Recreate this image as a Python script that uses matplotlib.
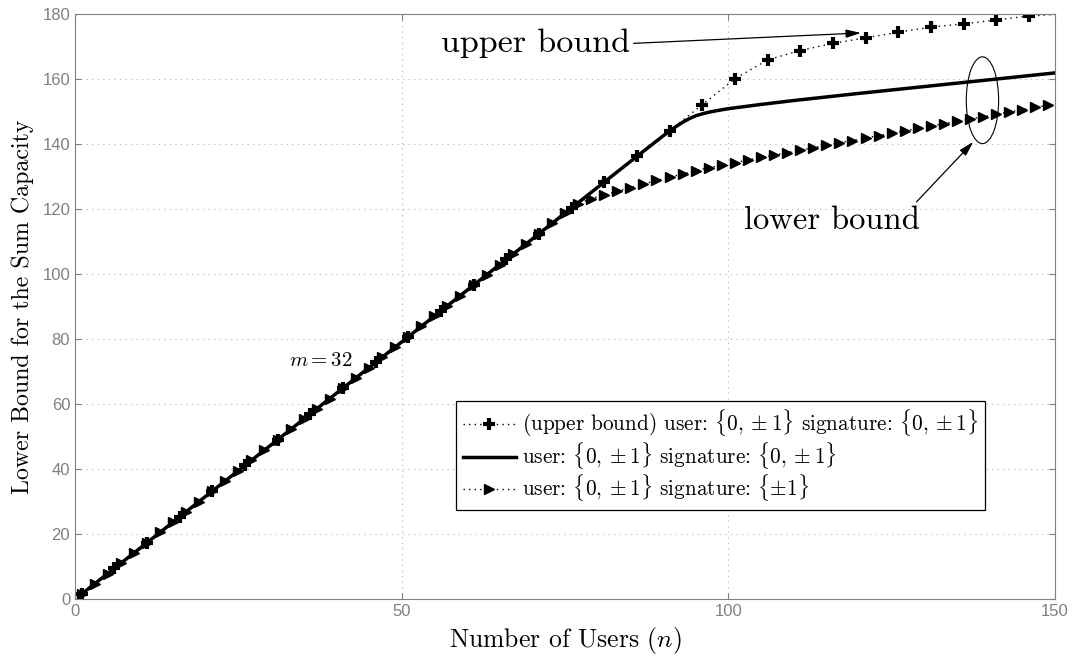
# lower/upper bound of sum capacity vs number of users (m = 32)
import matplotlib
matplotlib.use("Agg")
import matplotlib.pyplot as plt
from matplotlib.patches import Ellipse

# ---- data ----
# upper bound, user {0,+-1}, signature {0,+-1} (marker every 5 users)
n_upper = [1, 6, 11, 16, 21, 26, 31, 36, 41, 46, 51, 56, 61, 66, 71, 76, 81, 86, 91, 96,
           101, 106, 111, 116, 121, 126, 131, 136, 141, 146, 150]
cap_upper = [1.6, 9.5, 17.4, 25.4, 33.3, 41.2, 49.1, 57.1, 65.0, 72.9, 80.8, 88.8, 96.7,
             104.6, 112.5, 120.5, 128.4, 136.3, 144.2, 152.2,
             160.2, 166.0, 168.9, 171.1, 172.8, 174.5, 176.1, 177.1, 178.3, 179.5, 180.0]

# lower bound, user {0,+-1}, signature {0,+-1} (solid)
n_solid = [1, 10, 20, 30, 40, 50, 60, 70, 80, 86, 90, 92, 93, 94, 95, 96, 97, 98, 100,
           105, 110, 120, 130, 140, 150]
cap_solid = [1.6, 15.8, 31.7, 47.5, 63.4, 79.2, 95.1, 110.9, 126.8, 136.3, 142.6, 145.5,
             146.8, 147.9, 148.8, 149.4, 149.9, 150.3, 151.0, 152.3, 153.5, 155.7,
             157.8, 159.9, 162.0]

# lower bound, user {0,+-1}, signature {+-1} (triangles, every 2 users)
n_tri = list(range(1, 150, 2))
cap_tri = [1.6, 4.8, 7.9, 11.1, 14.3, 17.4, 20.6, 23.8, 26.9, 30.1,
           33.3, 36.5, 39.6, 42.8, 46.0, 49.1, 52.3, 55.5, 58.6, 61.8,
           65.0, 68.2, 71.3, 74.5, 77.7, 80.8, 84.0, 87.2, 90.3, 93.5,
           96.7, 99.9, 103.0, 106.2, 109.4, 112.5, 115.7, 118.9, 121.8, 123.3,
           124.5, 125.6, 126.7, 127.8, 128.9, 129.9, 130.9, 131.9, 132.8, 133.6,
           134.4, 135.2, 136.0, 136.7, 137.5, 138.2, 139.0, 139.7, 140.5, 141.2,
           142.0, 142.7, 143.4, 144.2, 144.9, 145.6, 146.4, 147.1, 147.8, 148.5,
           149.3, 150.0, 150.7, 151.4, 152.1]

labels = [r"(upper bound) user: $\{0,\pm1\}$ signature: $\{0,\pm1\}$",
          r"user: $\{0,\pm1\}$ signature: $\{0,\pm1\}$",
          r"user: $\{0,\pm1\}$ signature: $\{\pm1\}$"]

plt.rcParams['font.family'] = ['Liberation Sans', 'DejaVu Sans']
plt.rcParams['mathtext.fontset'] = 'cm'
serif = 'cmr10'
gray = '#808080'

fig = plt.figure(figsize=(10.73, 6.56), dpi=100)
ax = fig.add_axes([0.0699, 0.0864, 0.9133, 0.8916])

dotted = (0, (1, 3))
ax.plot(n_upper, cap_upper, color='black', linestyle=dotted, lw=1.0,
        marker='+', markersize=9, markeredgewidth=3, markevery=slice(0, -1),
        label=labels[0])
ax.plot(n_solid, cap_solid, color='black', lw=2.5, label=labels[1])
ax.plot(n_tri, cap_tri, color='black', linestyle=dotted, lw=1.0,
        marker='>', markersize=7, label=labels[2])

ax.set_xlim(0, 150)
ax.set_ylim(0, 180)
ax.set_xticks([0, 50, 100, 150])
ax.set_yticks(range(0, 181, 20))
ax.grid(True, color='#b0b0b0', linestyle=(0, (1, 4)), lw=0.8)
ax.tick_params(direction='in', colors=gray, labelsize=12, length=4,
               top=True, right=True)
for s in ax.spines.values():
    s.set_color(gray)

ax.set_xlabel(r"Number of Users ($n$)", family=serif, fontsize=18.5, labelpad=4)
ax.set_ylabel("Lower Bound for the Sum Capacity", family=serif, fontsize=17.2, labelpad=6)

# annotations
ax.text(85.0, 171.2, "upper bound", family=serif, fontsize=24.5, ha='right', va='center')
ax.annotate('', xy=(120.3, 174.3), xytext=(85.5, 171.1),
            arrowprops=dict(arrowstyle='-|>,head_length=0.9,head_width=0.25',
                            color='black', lw=0.9, shrinkA=0, shrinkB=0))
ax.text(115.9, 116.7, "lower bound", family=serif, fontsize=23.5, ha='center', va='center')
ax.annotate('', xy=(137.5, 140.8), xytext=(128.8, 122.3),
            arrowprops=dict(arrowstyle='-|>,head_length=0.9,head_width=0.25',
                            color='black', lw=0.9, shrinkA=0, shrinkB=0))
ax.add_patch(Ellipse((138.9, 153.6), 4.95, 26.7, fill=False, edgecolor='black', lw=0.8))
ax.text(32.8, 73.6, r"$m = 32$", fontsize=15, va='center')

leg = ax.legend(loc='lower left', bbox_to_anchor=(0.389, 0.153), prop={'family': serif, 'size': 15.3},
                fancybox=False, edgecolor='black', framealpha=1, handlelength=2.5,
                borderpad=0.3, labelspacing=0.05, handletextpad=0.3, borderaxespad=0)
leg.get_frame().set_linewidth(0.9)

fig.savefig("out.png", dpi=100)
